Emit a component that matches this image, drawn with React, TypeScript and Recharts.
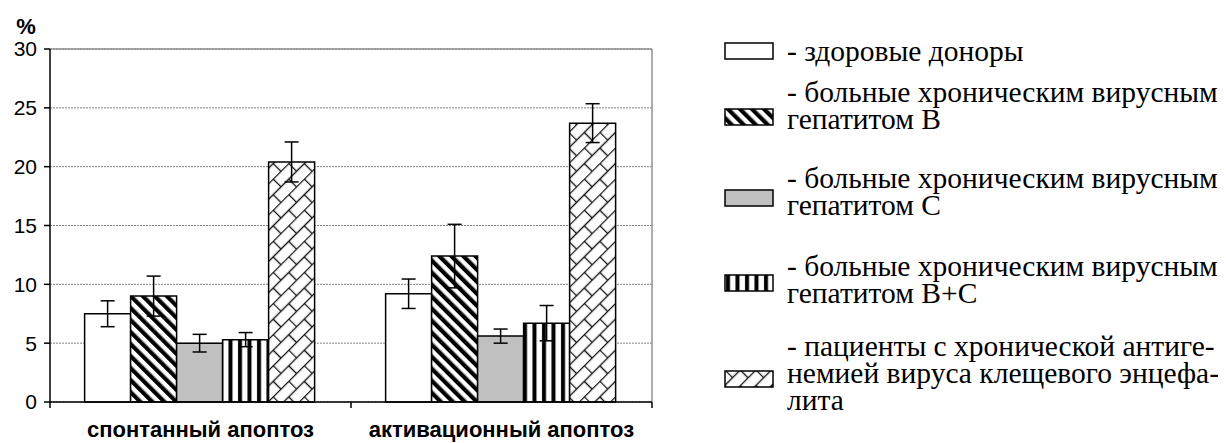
import React from 'react';
import {
  BarChart,
  Bar,
  XAxis,
  YAxis,
  CartesianGrid,
  ErrorBar,
  ReferenceLine,
  Label,
} from 'recharts';

// Categories (x axis)
const categories = ['спонтанный апоптоз', 'активационный апоптоз'];

// Mean values, %
const donors = [7.5, 9.2];
const hepB = [9.0, 12.4];
const hepC = [5.0, 5.6];
const hepBC = [5.3, 6.7];
const tbe = [20.4, 23.7];

// Error values (±), %
const donorsErr = [1.1, 1.25];
const hepBErr = [1.7, 2.7];
const hepCErr = [0.75, 0.6];
const hepBCErr = [0.6, 1.5];
const tbeErr = [1.7, 1.65];

const yTicks = [0, 5, 10, 15, 20, 25, 30];

// Legend lines for each group
const legendLines = [
  ['- здоровые доноры'],
  ['- больные хроническим вирусным', 'гепатитом В'],
  ['- больные хроническим вирусным', 'гепатитом С'],
  ['- больные хроническим вирусным', 'гепатитом В+С'],
  ['- пациенты с хронической антиге-', 'немией вируса клещевого энцефа-', 'лита'],
];

const values = [donors, hepB, hepC, hepBC, tbe];
const errors = [donorsErr, hepBErr, hepCErr, hepBCErr, tbeErr];
const fills = ['#ffffff', 'url(#pStripeDiag)', '#c0c0c0', 'url(#pStripeVert)', 'url(#pBrick)'];

const data = categories.map((name, i) => {
  const row: Record<string, string | number> = { name };
  values.forEach((arr, k) => {
    row[`v${k}`] = arr[i];
    row[`e${k}`] = errors[k][i];
  });
  return row;
});

// chart layout
const CHART_W = 660;
const CHART_H = 435;
const MARGIN = { top: 41, right: 16, bottom: 0, left: 0 };
const Y_AXIS_W = 42;
const PLOT_W = CHART_W - MARGIN.left - MARGIN.right - Y_AXIS_W;
const BAND = PLOT_W / categories.length;

const sansFont = '"Liberation Sans", Arial, sans-serif';
const serifFont = '"Liberation Serif", "Times New Roman", serif';

const PatternDefs = ({ prefix = '' }: { prefix?: string }) => (
  <defs>
    <pattern
      id={`${prefix}pStripeDiag`}
      patternUnits="userSpaceOnUse"
      width={8.5}
      height={8.5}
      patternTransform="rotate(-45)"
    >
      <rect x={0} y={0} width={8.5} height={8.5} fill="#fff" />
      <rect x={0} y={0} width={4.2} height={8.5} fill="#000" />
    </pattern>
    <pattern id={`${prefix}pStripeVert`} patternUnits="userSpaceOnUse" width={9.5} height={10}>
      <rect x={0} y={0} width={9.5} height={10} fill="#fff" />
      <rect x={2} y={0} width={4} height={10} fill="#000" />
    </pattern>
    <pattern
      id={`${prefix}pBrick`}
      patternUnits="userSpaceOnUse"
      width={22}
      height={22}
      patternTransform="rotate(-45)"
    >
      <rect x={0} y={0} width={22} height={22} fill="#fff" />
      <g stroke="#111" strokeWidth={1.4} fill="none">
        <line x1={0} y1={0.5} x2={22} y2={0.5} />
        <line x1={0} y1={11.5} x2={22} y2={11.5} />
        <line x1={0.5} y1={0} x2={0.5} y2={11.5} />
        <line x1={11.5} y1={11.5} x2={11.5} y2={22} />
      </g>
    </pattern>
  </defs>
);

// x-axis tick: boundary tick marks plus the bold category label
const CategoryTick = (props: any) => {
  const { x, y, payload, index } = props;
  const half = BAND / 2;
  return (
    <g>
      <line x1={x - half} y1={y} x2={x - half} y2={y + 6} stroke="#000" strokeWidth={1.5} />
      {index === categories.length - 1 && (
        <line x1={x + half} y1={y} x2={x + half} y2={y + 6} stroke="#000" strokeWidth={1.5} />
      )}
      <text
        x={x}
        y={y + 35}
        textAnchor="middle"
        fontFamily={sansFont}
        fontWeight="bold"
        fontSize={22}
        fill="#000"
      >
        {payload.value}
      </text>
    </g>
  );
};

const PercentLabel = (props: any) => {
  const { viewBox } = props;
  return (
    <text
      x={viewBox.x + 18}
      y={viewBox.y - 15}
      textAnchor="middle"
      fontFamily={sansFont}
      fontWeight="bold"
      fontSize={22}
      fill="#000"
    >
      %
    </text>
  );
};

// legend item vertical positions (first line centre, relative to the legend box)
const legendTop = [43, 84, 170, 258, 338];
const swatchOffset = [0, 25, 20, 17, 33];
const LINE_STEP = 27;

const Swatch = ({ k }: { k: number }) => (
  <svg width={50} height={18} style={{ display: 'block' }}>
    <PatternDefs prefix={`lg${k}`} />
    <rect
      x={1}
      y={1}
      width={48}
      height={16}
      fill={fills[k].startsWith('url') ? fills[k].replace('#', `#lg${k}`) : fills[k]}
      stroke="#000"
      strokeWidth={1.5}
    />
  </svg>
);

const Legend = () => (
  <div style={{ position: 'absolute', left: 0, top: 0, width: 1210, height: 435, pointerEvents: 'none' }}>
    {legendLines.map((lines, k) => (
      <React.Fragment key={k}>
        <div style={{ position: 'absolute', left: 716, top: legendTop[k] - 9 + swatchOffset[k] }}>
          <Swatch k={k} />
        </div>
        {lines.map((t, j) => (
          <div
            key={j}
            style={{
              position: 'absolute',
              left: 779,
              top: legendTop[k] + j * LINE_STEP - 13,
              fontFamily: serifFont,
              fontSize: 29.5,
              lineHeight: '26px',
              whiteSpace: 'nowrap',
              color: '#000',
            }}
          >
            {t}
          </div>
        ))}
      </React.Fragment>
    ))}
  </div>
);

export default function App() {
  return (
    <div style={{ position: 'relative', width: 1210, height: 435, background: '#fff' }}>
      <BarChart
        width={CHART_W}
        height={CHART_H}
        data={data}
        margin={MARGIN}
        barCategoryGap="11.5%"
        barGap={0}
      >
        <PatternDefs />
        <CartesianGrid
          horizontal
          vertical={false}
          stroke="#808080"
          strokeDasharray="2 1"
          strokeWidth={1}
        />
        <XAxis
          dataKey="name"
          height={41}
          axisLine={{ stroke: '#000', strokeWidth: 1.5 }}
          tickLine={false}
          tickSize={0}
          tickMargin={0}
          tick={<CategoryTick />}
          interval={0}
        />
        <YAxis
          width={Y_AXIS_W}
          domain={[0, 30]}
          ticks={yTicks}
          interval={0}
          axisLine={{ stroke: '#000', strokeWidth: 1.5 }}
          tickLine={{ stroke: '#000', strokeWidth: 1.5 }}
          tickSize={6}
          tickMargin={7}
          tick={{ fontFamily: sansFont, fontSize: 21, fill: '#000' }}
        >
          <Label content={<PercentLabel />} position="top" />
        </YAxis>
        <ReferenceLine y={30} stroke="#909090" strokeWidth={1.5} />
        <ReferenceLine
          x={categories[categories.length - 1]}
          position="end"
          stroke="#909090"
          strokeWidth={1.5}
        />
        {values.map((_, k) => (
          <Bar
            key={k}
            dataKey={`v${k}`}
            fill={fills[k]}
            stroke="#000"
            strokeWidth={1.5}
            isAnimationActive={false}
          >
            <ErrorBar dataKey={`e${k}`} width={7} stroke="#000" strokeWidth={1.5} />
          </Bar>
        ))}
      </BarChart>
      <Legend />
    </div>
  );
}
